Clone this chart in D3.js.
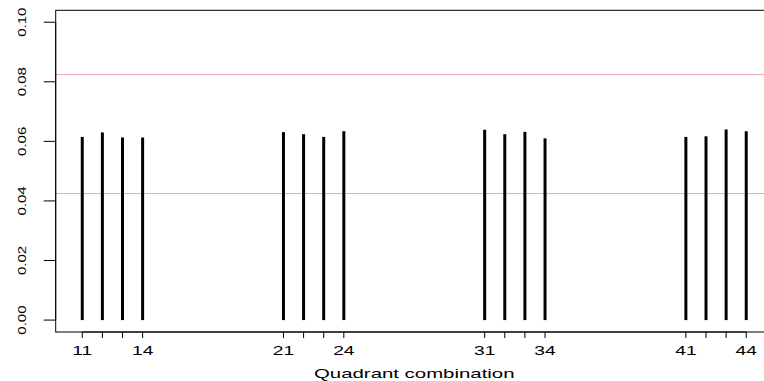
<!DOCTYPE html>
<html>
<head>
<meta charset="utf-8">
<script src="https://cdn.jsdelivr.net/npm/d3@7"></script>
<style>
  body { margin: 0; background: #fff; }
  text { font-family: "Liberation Sans", Arial, sans-serif; }
</style>
</head>
<body>
<div id="chart"></div>
<script>
// quadrant combinations and their values
var combos = [11, 12, 13, 14, 21, 22, 23, 24, 31, 32, 33, 34, 41, 42, 43, 44];
var values = [0.0615, 0.0630, 0.0613, 0.0613, 0.0631, 0.0624, 0.0615, 0.0634,
              0.0639, 0.0624, 0.0632, 0.0610, 0.0615, 0.0617, 0.0640, 0.0634];
var xLabels = [11, 14, 21, 24, 31, 34, 41, 44];
var yTicks = [0, 0.02, 0.04, 0.06, 0.08, 0.10];
var refUpper = 0.0824;
var refLower = 0.0425;

var width = 764, height = 381;
// plot region (note: "top" is reserved on window, so use a margin object)
var plot = {left: 55.7, right: 772.8, top: 10.3, bottom: 332};

var svg = d3.select('#chart').append('svg')
    .attr('width', width)
    .attr('height', height);

// R style 4% padding on both axes
var x = d3.scaleLinear().domain([9.68, 45.32]).range([plot.left, plot.right]);
var y = d3.scaleLinear().domain([-0.004, 0.104]).range([plot.bottom, plot.top]);

// reference lines
svg.append('line')
    .attr('x1', plot.left).attr('x2', plot.right)
    .attr('y1', y(refUpper)).attr('y2', y(refUpper))
    .attr('stroke', '#e8a3b4').attr('stroke-width', 1);
svg.append('line')
    .attr('x1', plot.left).attr('x2', plot.right)
    .attr('y1', y(refLower)).attr('y2', y(refLower))
    .attr('stroke', '#99dd88').attr('stroke-width', 1);

// vertical "h" bars
svg.selectAll('.bar')
    .data(combos)
    .enter().append('line')
    .attr('class', 'bar')
    .attr('x1', function(d){ return x(d) })
    .attr('x2', function(d){ return x(d) })
    .attr('y1', y(0))
    .attr('y2', function(d, i){ return y(values[i]) })
    .attr('stroke', '#000')
    .attr('stroke-width', 3);

// box
svg.append('rect')
    .attr('x', plot.left).attr('y', plot.top)
    .attr('width', plot.right - plot.left).attr('height', plot.bottom - plot.top)
    .attr('fill', 'none').attr('stroke', '#000').attr('stroke-width', 1);

// x axis
var gx = svg.append('g');
gx.append('line')
    .attr('x1', x(11)).attr('x2', x(44))
    .attr('y1', plot.bottom).attr('y2', plot.bottom)
    .attr('stroke', '#000');
gx.selectAll('.xtick')
    .data(combos)
    .enter().append('line')
    .attr('x1', function(d){ return x(d) })
    .attr('x2', function(d){ return x(d) })
    .attr('y1', plot.bottom).attr('y2', plot.bottom + 6)
    .attr('stroke', '#000');
gx.selectAll('.xlab')
    .data(xLabels)
    .enter().append('text')
    .attr('transform', function(d){ return 'translate(' + x(d) + ',355) scale(1.6,1)' })
    .attr('text-anchor', 'middle')
    .attr('font-size', 12)
    .text(function(d){ return d });

svg.append('text')
    .attr('transform', 'translate(' + ((plot.left + plot.right) / 2) + ',378) scale(1.7,1)')
    .attr('text-anchor', 'middle')
    .attr('font-size', 12)
    .text('Quadrant combination');

// y axis
var gy = svg.append('g');
gy.append('line')
    .attr('x1', plot.left).attr('x2', plot.left)
    .attr('y1', y(0)).attr('y2', y(0.10))
    .attr('stroke', '#000');
gy.selectAll('.ytick')
    .data(yTicks)
    .enter().append('line')
    .attr('x1', plot.left - 12).attr('x2', plot.left)
    .attr('y1', function(d){ return y(d) })
    .attr('y2', function(d){ return y(d) })
    .attr('stroke', '#000');
gy.selectAll('.ylab')
    .data(yTicks)
    .enter().append('text')
    .attr('transform', function(d){ return 'translate(26,' + y(d) + ') rotate(-90) scale(1.25,0.85)' })
    .attr('text-anchor', 'middle')
    .attr('font-size', 12)
    .text(function(d){ return d3.format('.2f')(d) });
</script>
</body>
</html>
